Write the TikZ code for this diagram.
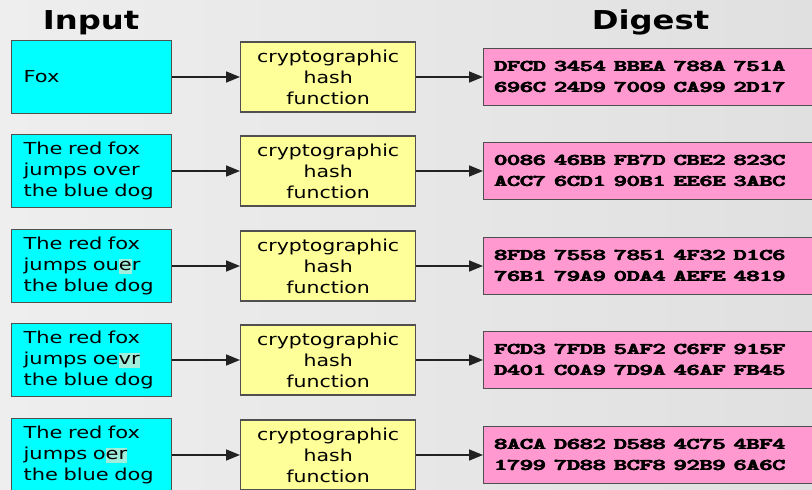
\documentclass[tikz,border=0pt]{standalone}
\usepackage{fontspec}
\setmainfont{DejaVu Sans}
\newfontfamily\boxfont[FakeStretch=1.27]{DejaVu Sans}
\newfontfamily\titlefont[FakeStretch=1.24]{DejaVu Sans}
\usetikzlibrary{arrows.meta}
\definecolor{bg}{HTML}{E0E0E0}
\definecolor{bglight}{HTML}{EEEEEE}
\definecolor{incol}{HTML}{00FFFF}
\definecolor{hashcol}{HTML}{FFFF99}
\definecolor{digcol}{HTML}{FF99D0}
\definecolor{edge}{HTML}{505050}
\definecolor{arrcol}{HTML}{222222}
\definecolor{hlc}{HTML}{A2EEDC}
\newcommand\hlt[1]{{\setlength\fboxsep{0pt}\colorbox{hlc}{\rule[-3pt]{0pt}{15pt}#1}}}
\newcommand\hexline[1]{\scalebox{1.5}[1]{\ttfamily\bfseries\rlap{#1}\kern0.3pt\rlap{#1}\kern0.3pt\rlap{#1}\kern0.3pt#1}}
\begin{document}
\begin{tikzpicture}[x=1pt,y=-1pt,
  inbox/.style={draw=edge, line width=1.3pt, fill=incol, anchor=west,
    minimum width=160pt, minimum height=73pt, inner xsep=12pt, inner ysep=0pt,
    text width=136pt, align=left, font={\boxfont\fontsize{16.5}{21}\selectfont}},
  hashbox/.style={draw=edge, line width=1.3pt, fill=hashcol, anchor=west,
    minimum width=175pt, minimum height=70pt, inner sep=0pt, align=center,
    font={\titlefont\fontsize{16.5}{21}\selectfont}},
  digbox/.style={draw=edge, line width=1.3pt, fill=digcol, anchor=west,
    minimum width=360pt, minimum height=57pt, inner xsep=10pt, inner ysep=0pt,
    text width=340pt, align=left, font={\fontsize{16.4}{20.5}\selectfont}},
  titletext/.style={anchor=base, font={\titlefont\bfseries\fontsize{26}{30}\selectfont}},
  arr/.style={draw=arrcol, line width=1.6pt, -{Triangle[length=14pt,width=11pt]}}
]
\clip (0,0) rectangle (812,490);
\shade[left color=bglight, right color=bg] (0,0) rectangle (812,490);

\node[titletext] (tin) at (91,29) {Input};
\node[titletext] (tdig) at (650.5,29) {Digest};

% row 1
\node[inbox] (in1) at (11,77) {Fox};
\node[hashbox] (h1) at (240,77) {cryptographic\\hash\\function};
\node[digbox] (d1) at (483,77) {\hexline{DFCD 3454 BBEA 788A 751A}\\\hexline{696C 24D9 7009 CA99 2D17}};
\draw[arr] (in1.east) -- (h1.west);
\draw[arr] (h1.east) -- (d1.west);

% row 2
\node[inbox] (in2) at (11,171) {The red fox\\jumps over\\the blue dog};
\node[hashbox] (h2) at (240,171) {cryptographic\\hash\\function};
\node[digbox] (d2) at (483,171) {\hexline{0086 46BB FB7D CBE2 823C}\\\hexline{ACC7 6CD1 90B1 EE6E 3ABC}};
\draw[arr] (in2.east) -- (h2.west);
\draw[arr] (h2.east) -- (d2.west);

% row 3
\node[inbox] (in3) at (11,266) {The red fox\\jumps ou\hlt{e}r\\the blue dog};
\node[hashbox] (h3) at (240,266) {cryptographic\\hash\\function};
\node[digbox] (d3) at (483,266) {\hexline{8FD8 7558 7851 4F32 D1C6}\\\hexline{76B1 79A9 0DA4 AEFE 4819}};
\draw[arr] (in3.east) -- (h3.west);
\draw[arr] (h3.east) -- (d3.west);

% row 4
\node[inbox] (in4) at (11,360) {The red fox\\jumps oe\hlt{vr}\\the blue dog};
\node[hashbox] (h4) at (240,360) {cryptographic\\hash\\function};
\node[digbox] (d4) at (483,360) {\hexline{FCD3 7FDB 5AF2 C6FF 915F}\\\hexline{D401 C0A9 7D9A 46AF FB45}};
\draw[arr] (in4.east) -- (h4.west);
\draw[arr] (h4.east) -- (d4.west);

% row 5
\node[inbox] (in5) at (11,455) {The red fox\\jumps o\hlt{er}\\the blue dog};
\node[hashbox] (h5) at (240,455) {cryptographic\\hash\\function};
\node[digbox] (d5) at (483,455) {\hexline{8ACA D682 D588 4C75 4BF4}\\\hexline{1799 7D88 BCF8 92B9 6A6C}};
\draw[arr] (in5.east) -- (h5.west);
\draw[arr] (h5.east) -- (d5.west);
\end{tikzpicture}
\end{document}
